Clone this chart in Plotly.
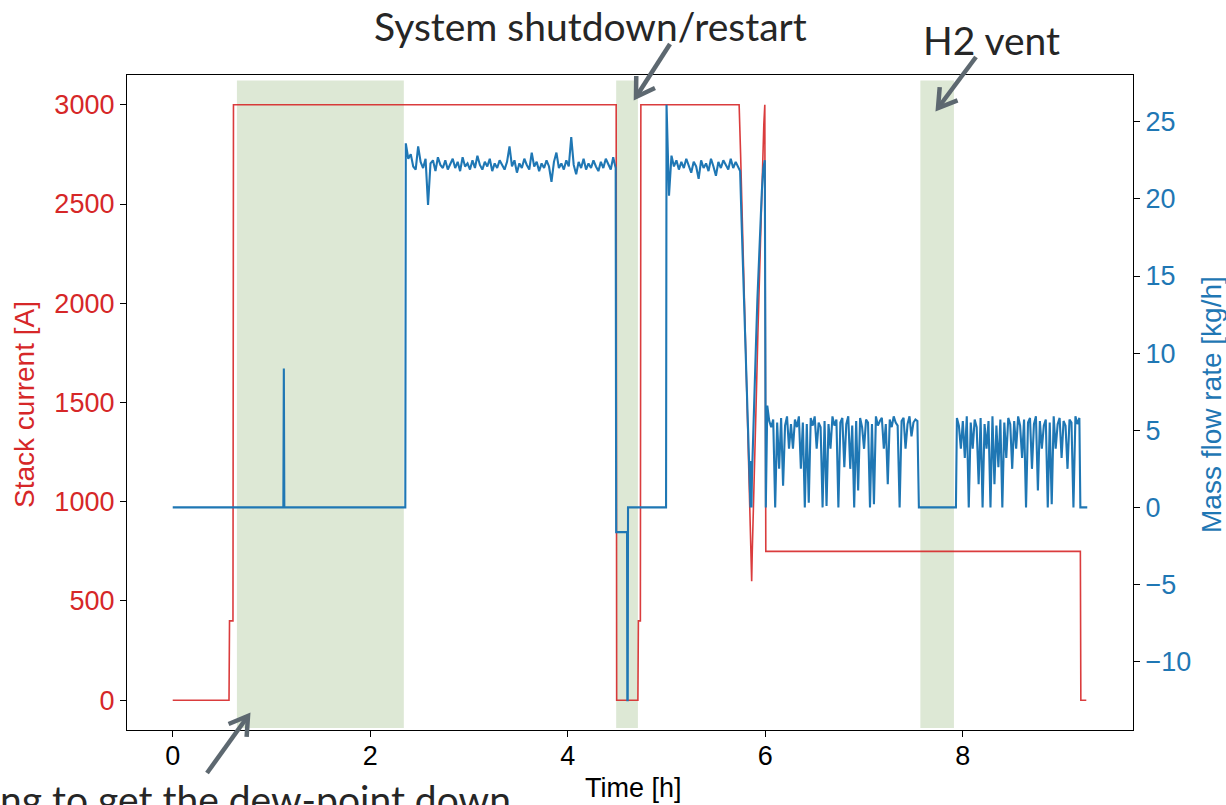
import numpy as np
import plotly.graph_objects as go

# ---------------- data ----------------
# Stack current [A] (red, left axis) - breakpoints
cur_t = [0.0, 0.57, 0.575, 0.61, 0.615, 4.49, 4.495, 4.71, 4.715, 4.735, 4.74,
         5.735, 5.75, 5.765, 5.78, 5.795, 5.81, 5.825, 5.84, 5.85, 5.855, 5.862,
         5.868, 5.88, 5.895, 5.91, 5.925, 5.94, 5.955, 5.97, 5.985, 5.995, 6.005,
         9.19, 9.195, 9.25]
cur_v = [0, 0, 400, 400, 3000, 3000, 0, 0, 400, 400, 3000,
         3000, 2750, 2450, 2150, 1850, 1550, 1250, 950, 750, 600, 600,
         750, 950, 1250, 1550, 1850, 2150, 2450, 2700, 2900, 3000, 750,
         750, 0, 0]

# Mass flow rate [kg/h] (blue, right axis)
flow_start_t = [0.0, 1.12, 1.125, 1.13, 2.355]
flow_start_v = [0.0, 0.0, 9.0, 0.0, 0.0]

segA_start, segA_step = 2.36, 0.025
segA_v = [23.6, 22.6, 22.9, 22.1, 21.9, 23.4, 22.4, 22.0, 22.6, 19.6,
          22.3, 22.5, 21.8, 22.7, 22.2, 22.0, 22.5, 21.9, 22.3, 22.6,
          22.0, 22.4, 21.8, 22.7, 22.1, 22.3, 21.9, 22.5, 22.0, 22.8,
          22.2, 21.9, 22.4, 22.1, 22.6, 21.8, 22.3, 22.0, 22.5, 22.2,
          21.9, 22.4, 23.4, 22.1, 22.5, 21.7, 22.3, 22.0, 22.6, 22.2,
          21.9, 23.0, 22.1, 22.4, 21.8, 22.3, 22.0, 22.5, 22.1, 21.1,
          22.4, 23.0, 22.0, 22.3, 21.9, 22.5, 22.1, 24.0, 22.2, 21.6,
          22.4, 22.0, 22.6, 21.9, 22.3, 22.0, 22.5, 22.1, 21.8, 22.4,
          22.0, 22.6, 22.2, 21.9, 22.7, 22.0]

shutdown_t = [4.49, 4.60, 4.603, 4.607, 4.61, 4.995]
shutdown_v = [-1.6, -1.6, -12.5, -12.5, 0.0, 0.0]

segB_start, segB_step = 5.0, 0.025
segB_v = [26.1, 20.2, 22.8, 22.1, 22.5, 21.9, 22.4, 22.0, 22.6, 22.2,
          21.7, 22.4, 22.1, 21.3, 22.5, 22.0, 22.3, 21.8, 22.6, 22.1,
          21.5, 22.4, 22.0, 22.5, 22.2, 21.9, 22.6, 22.0, 22.4, 22.1]

ramp_t = [5.745, 5.76, 5.775, 5.79, 5.805, 5.82, 5.835, 5.845, 5.85, 5.855,
          5.86, 5.865, 5.875, 5.89, 5.905, 5.92, 5.935, 5.95, 5.965, 5.98,
          5.995, 6.005]
ramp_v = [21.8, 18.5, 15.5, 12.5, 9.5, 6.5, 3.5, 1.0, 0.0, 3.0,
          0.0, 2.0, 4.5, 7.5, 10.5, 13.5, 16.0, 18.5, 20.5, 22.0,
          22.5, 0.0]

segC_start, segC_step = 6.02, 0.02
segC_v = [6.6, 5.6, 5.2, 5.7, 0.0, 5.5, 2.5, 5.8, 1.4, 5.3,
          5.9, 3.8, 5.4, 3.8, 5.7, 5.2, 5.9, 2.5, 5.5, 0.0,
          5.4, 0.3, 5.8, 5.3, 5.9, 3.8, 5.5, 5.2, 0.0, 5.6,
          0.1, 5.4, 3.8, 5.9, 5.3, 5.7, 0.0, 5.5, 5.8, 2.6,
          5.4, 5.9, 2.5, 5.3, 0.0, 5.6, 1.1, 5.8, 5.2, 3.8,
          5.7, 5.5, 0.0, 5.4, 0.2, 5.9, 5.3, 5.6, 5.8, 3.8,
          5.4, 1.5, 5.7, 5.2, 5.9, 5.5, 5.3, 0.0, 5.6, 5.8,
          3.8, 5.4, 5.9, 4.6, 5.5, 5.7, 5.6]

vent_t = [7.555, 7.93]
vent_v = [0.0, 0.0]

segD_start, segD_step = 7.94, 0.02
segD_v = [5.8, 5.3, 3.8, 5.6, 3.2, 5.9, 0.0, 5.5, 3.8, 5.7,
          5.2, 1.5, 5.8, 0.0, 5.4, 3.8, 5.6, 0.0, 5.9, 1.5,
          5.3, 2.6, 5.7, 0.0, 5.5, 3.2, 5.8, 5.4, 2.5, 5.6,
          3.8, 5.9, 5.3, 3.2, 5.7, 0.0, 5.5, 5.8, 2.5, 5.4,
          5.9, 1.1, 5.6, 3.8, 5.3, 5.7, 0.0, 5.5, 0.2, 5.9,
          3.8, 5.4, 5.8, 3.2, 5.6, 5.3, 2.5, 5.7, 5.5, 0.0,
          5.9, 5.4, 5.8]

end_t = [9.19, 9.26]
end_v = [0.0, 0.0]

# shaded periods [h]
shade_x0 = [0.65, 4.49, 7.57]
shade_x1 = [2.34, 4.71, 7.91]

x_ticks = [0, 2, 4, 6, 8]
left_ticks = [0, 500, 1000, 1500, 2000, 2500, 3000]
right_ticks = [-10, -5, 0, 5, 10, 15, 20, 25]


def seg_times(start, step, vals):
    return list(np.round(start + step * np.arange(len(vals)), 4))


flow_t = (flow_start_t + seg_times(segA_start, segA_step, segA_v) + shutdown_t
          + seg_times(segB_start, segB_step, segB_v) + ramp_t
          + seg_times(segC_start, segC_step, segC_v) + vent_t
          + seg_times(segD_start, segD_step, segD_v) + end_t)
flow_v = (flow_start_v + segA_v + shutdown_v + segB_v + ramp_v + segC_v
          + vent_v + segD_v + end_v)

# ---------------- layout constants ----------------
W, H = 1226, 805
L, R, T, B = 127, 93, 75, 75
PW, PH = W - L - R, H - T - B
RED = "#d62728"
BLUE = "#1f77b4"
GREY = "#5d6870"
TXT = "#262626"


def paper(px, py):
    return (px - L) / PW, (H - B - py) / PH


fig = go.Figure()
fig.add_trace(go.Scatter(x=cur_t, y=cur_v, mode="lines", yaxis="y",
                         line=dict(color="rgba(214,39,40,0.9)", width=1.6),
                         showlegend=False, hoverinfo="skip"))
fig.add_trace(go.Scatter(x=flow_t, y=flow_v, mode="lines", yaxis="y2",
                         line=dict(color=BLUE, width=2.1),
                         showlegend=False, hoverinfo="skip"))

shapes = []
for a, b in zip(shade_x0, shade_x1):
    shapes.append(dict(type="rect", xref="x", yref="y", x0=a, x1=b, y0=-140, y1=3122,
                       fillcolor="#dde8d5", line=dict(width=0), layer="below"))

# arrows (tail -> head, in pixels)
arrows = [((207, 773), (248, 716)), ((670, 44), (636, 97)), ((976, 57), (938, 108))]
for (tx, ty), (hx, hy) in arrows:
    x0, y0 = paper(tx, ty)
    x1, y1 = paper(hx, hy)
    shapes.append(dict(type="line", xref="paper", yref="paper", x0=x0, y0=y0, x1=x1, y1=y1,
                       line=dict(color=GREY, width=4.5), layer="above"))
    d = np.array([tx - hx, ty - hy], dtype=float)
    d /= np.linalg.norm(d)
    arms = []
    for ang in (np.radians(32), -np.radians(32)):
        c, s = np.cos(ang), np.sin(ang)
        v = np.array([c * d[0] - s * d[1], s * d[0] + c * d[1]]) * 21
        arms.append((hx + v[0], hy + v[1]))
    p1 = paper(*arms[0]); p0 = paper(hx, hy); p2 = paper(*arms[1])
    shapes.append(dict(type="path", xref="paper", yref="paper",
                       path=f"M {p1[0]} {p1[1]} L {p0[0]} {p0[1]} L {p2[0]} {p2[1]}",
                       line=dict(color=GREY, width=4.5), layer="above"))

annotations = []
ax, ay = paper(25, 405)
annotations.append(dict(text="Stack current [A]", xref="paper", yref="paper", x=ax, y=ay,
                        textangle=-90, showarrow=False, xanchor="center", yanchor="middle",
                        font=dict(family="Liberation Sans, Arial", size=28, color=RED)))
ax, ay = paper(1212, 405)
annotations.append(dict(text="Mass flow rate [kg/h]", xref="paper", yref="paper", x=ax, y=ay,
                        textangle=-90, showarrow=False, xanchor="center", yanchor="middle",
                        font=dict(family="Liberation Sans, Arial", size=28, color=BLUE)))
ax, ay = paper(633, 788)
annotations.append(dict(text="Time [h]", xref="paper", yref="paper", x=ax, y=ay,
                        showarrow=False, xanchor="center", yanchor="middle",
                        font=dict(family="Liberation Sans, Arial", size=27, color="black")))
ax, ay = paper(590, 26)
annotations.append(dict(text="System shutdown/restart", xref="paper", yref="paper", x=ax, y=ay,
                        showarrow=False, xanchor="center", yanchor="middle",
                        font=dict(family="Lato", size=39, color=TXT)))
ax, ay = paper(991, 40)
annotations.append(dict(text="H2 vent", xref="paper", yref="paper", x=ax, y=ay,
                        showarrow=False, xanchor="center", yanchor="middle",
                        font=dict(family="Lato", size=39, color=TXT)))
ax, ay = paper(-2, 774)
annotations.append(dict(text="ng to get the dew-point down", xref="paper", yref="paper", x=ax, y=ay,
                        showarrow=False, xanchor="left", yanchor="top",
                        font=dict(family="Lato", size=39, color=TXT)))

tickfont = dict(family="Liberation Sans, Arial", size=27)
fig.update_layout(
    width=W, height=H, margin=dict(l=L, r=R, t=T, b=B, pad=0),
    paper_bgcolor="white", plot_bgcolor="white",
    showlegend=False,
    xaxis=dict(range=[-0.463, 9.723], tickvals=x_ticks, ticktext=[str(v) for v in x_ticks],
               ticks="outside", ticklen=6, tickwidth=1.3, tickcolor="black",
               ticklabelstandoff=-5,
               showline=True, linecolor="black", linewidth=1.3, mirror=True,
               showgrid=False, zeroline=False, tickfont=dict(color="black", **tickfont)),
    yaxis=dict(range=[-150, 3150], tickvals=left_ticks, ticktext=[str(v) for v in left_ticks],
               ticks="outside", ticklen=6, tickwidth=1.3, tickcolor="black",
               showline=True, linecolor="black", linewidth=1.3, mirror=True,
               showgrid=False, zeroline=False, tickfont=dict(color=RED, **tickfont)),
    yaxis2=dict(range=[-14.43, 28.03], tickvals=right_ticks,
                ticktext=[str(v).replace("-", "\u2212") for v in right_ticks],
                overlaying="y", side="right",
                ticks="outside", ticklen=6, tickwidth=1.3, tickcolor="black",
                showline=True, linecolor="black", linewidth=1.3,
                showgrid=False, zeroline=False, tickfont=dict(color=BLUE, **tickfont)),
    shapes=shapes,
    annotations=annotations,
)

fig.write_html("out.html")
